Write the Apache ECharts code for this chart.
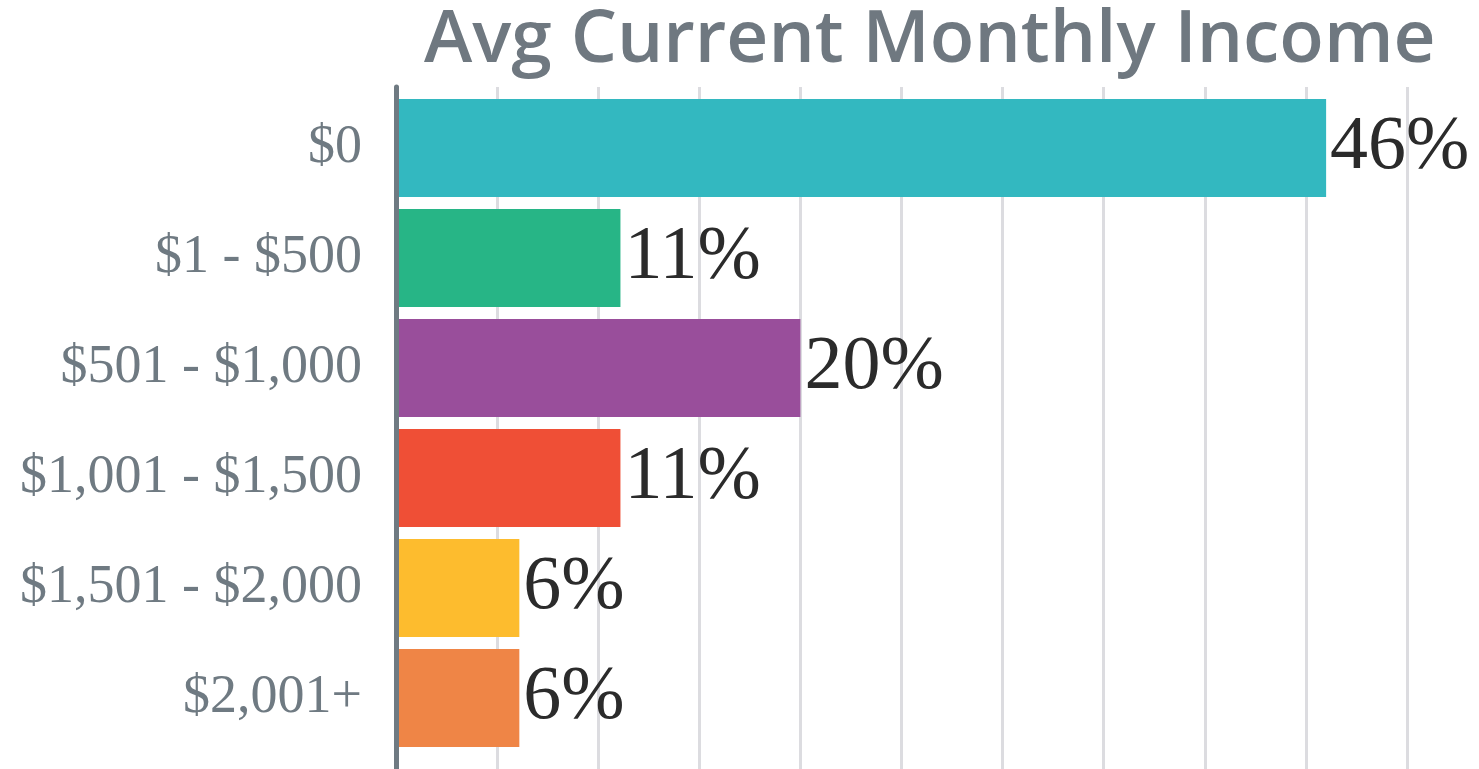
<!DOCTYPE html>
<html>
<head>
<meta charset="utf-8">
<script src="https://cdn.jsdelivr.net/npm/echarts@6/dist/echarts.min.js"></script>
<style>
html,body{margin:0;padding:0;background:#fff;}
#chart{width:1479px;height:769px;}
</style>
</head>
<body>
<div id="chart"></div>
<script>
const titleText = "Avg Current Monthly Income";
const categories = ["$0", "$1 - $500", "$501 - $1,000", "$1,001 - $1,500", "$1,501 - $2,000", "$2,001+"];
const values = [46, 11.1, 20, 11.1, 6.1, 6.1];
const barColors = ["#33b8c0", "#27b586", "#994e9b", "#ef4f36", "#fdbc2e", "#ef8546"];
const axisMax = 50;
const axisStep = 5;

const chart = echarts.init(document.getElementById('chart'));
chart.setOption({
  animation: false,
  title: {
    text: titleText,
    left: 419,
    top: 0,
    textStyle: { fontFamily: 'Open Sans', fontWeight: 600, fontSize: 73, color: '#6f7880' }
  },
  grid: [
    { left: 396, right: 72, top: 93, bottom: 16 },
    { left: 396, right: 72, top: 87, bottom: 0 }
  ],
  xAxis: [
    { type: 'value', gridIndex: 0, min: 0, max: axisMax, interval: axisStep,
      axisLabel: { show: false }, axisLine: { show: false }, axisTick: { show: false }, splitLine: { show: false } },
    { type: 'value', gridIndex: 1, min: 0, max: axisMax, interval: axisStep,
      axisLabel: { show: false }, axisLine: { show: false }, axisTick: { show: false },
      splitLine: { show: true, lineStyle: { color: '#dcdce0', width: 3 } } }
  ],
  yAxis: [
    { type: 'category', gridIndex: 0, data: categories, inverse: true,
      axisLine: { show: false }, axisTick: { show: false },
      axisLabel: { margin: 34, fontFamily: 'Liberation Serif', fontSize: 54, color: '#6f7a82' } },
    { type: 'value', gridIndex: 1, z: 5,
      axisLine: { show: true, lineStyle: { color: '#6f7a82', width: 5 } },
      axisLabel: { show: false }, axisTick: { show: false }, splitLine: { show: false } }
  ],
  series: [{
    type: 'bar',
    xAxisIndex: 0, yAxisIndex: 0,
    data: values.map((v, i) => ({ value: v, itemStyle: { color: barColors[i] } })),
    barCategoryGap: '11%',
    label: {
      show: true, position: 'right', distance: 4,
      formatter: p => Math.round(p.value) + '%',
      fontFamily: 'Liberation Serif', fontSize: 76, color: '#2b2b2b'
    }
  }]
});
</script>
</body>
</html>
